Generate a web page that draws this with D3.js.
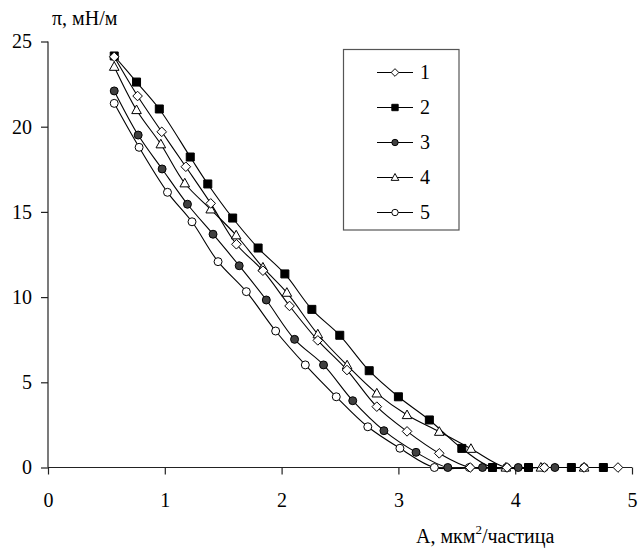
<!DOCTYPE html>
<html>
<head>
<meta charset="utf-8">
<script src="https://cdn.jsdelivr.net/npm/d3@7"></script>
<style>
  body { margin: 0; background: #fff; }
  svg { display: block; font-family: "Liberation Serif", "Times New Roman", serif; }
</style>
</head>
<body>
<svg id="chart" width="638" height="549"></svg>
<script>
// isotherm data
const seriesNames = ['1', '2', '3', '4', '5']
const xTicks = [0, 1, 2, 3, 4, 5]
const yTicks = [0, 5, 10, 15, 20, 25]

const area1 = [0.567, 0.767, 0.974, 1.18, 1.393, 1.613, 1.84, 2.068, 2.31, 2.56, 2.815, 3.074, 3.35, 3.615, 3.93, 4.25, 4.59, 4.88]
const pi1 = [24.1, 21.8, 19.7, 17.65, 15.5, 13.1, 11.55, 9.48, 7.46, 5.72, 3.57, 2.12, 0.83, 0, 0, 0, 0, 0]

const area2 = [0.567, 0.758, 0.953, 1.218, 1.368, 1.581, 1.799, 2.028, 2.259, 2.498, 2.75, 3.0, 3.265, 3.543, 3.806, 4.114, 4.481, 4.755]
const pi2 = [24.15, 22.62, 21.04, 18.22, 16.64, 14.64, 12.88, 11.36, 9.28, 7.76, 5.68, 4.15, 2.79, 1.12, 0, 0, 0, 0]

const area3 = [0.567, 0.772, 0.977, 1.194, 1.413, 1.637, 1.869, 2.111, 2.359, 2.609, 2.876, 3.151, 3.423, 3.72, 4.026, 4.34]
const pi3 = [22.1, 19.51, 17.52, 15.45, 13.69, 11.84, 9.83, 7.52, 6.02, 3.92, 2.16, 0.89, 0, 0, 0, 0]

const area4 = [0.567, 0.758, 0.966, 1.171, 1.393, 1.611, 1.84, 2.045, 2.31, 2.561, 2.815, 3.074, 3.35, 3.621, 3.92, 4.22, 4.59]
const pi4 = [23.52, 20.98, 18.97, 16.68, 15.15, 13.63, 11.74, 10.26, 7.82, 6.0, 4.35, 3.08, 2.1, 1.1, 0, 0, 0]

const area5 = [0.567, 0.78, 1.023, 1.233, 1.456, 1.698, 1.949, 2.203, 2.468, 2.738, 3.013, 3.308, 3.607, 3.926, 4.248, 4.59]
const pi5 = [21.37, 18.79, 16.15, 14.42, 12.08, 10.32, 8.01, 6.02, 4.15, 2.39, 1.13, 0, 0, 0, 0, 0]

const seriesX = [area1, area2, area3, area4, area5]
const seriesY = [pi1, pi2, pi3, pi4, pi5]

// marker style for each series: shape and fill
const markerShapes = ['diamond', 'square', 'circle', 'triangle', 'circle']
const markerFills = ['#fff', '#000', '#404040', '#fff', '#fff']

const svg = d3.select('#chart')

const x = d3.scaleLinear().domain([0, 5]).range([48, 632])
const y = d3.scaleLinear().domain([0, 25]).range([467.5, 41.5])

function markerPath(shape) {
  if (shape === 'diamond') return 'M0,-4.8L4.8,0L0,4.8L-4.8,0Z'
  if (shape === 'square') return 'M-4,-4H4V4H-4Z'
  if (shape === 'triangle') return 'M0,-5L4.8,3.6H-4.8Z'
  return d3.symbol(d3.symbolCircle, 50)()
}

// axes
const xAxis = svg.append('g')
  .attr('transform', `translate(0, ${y(0)})`)
  .call(d3.axisBottom(x).tickValues(xTicks).tickSize(7).tickPadding(18).tickFormat(d3.format('d')))
const yAxis = svg.append('g')
  .attr('transform', `translate(${x(0)}, 0)`)
  .call(d3.axisLeft(y).tickValues(yTicks).tickSize(7).tickPadding(9).tickFormat(d3.format('d')))

for (const ax of [xAxis, yAxis]) {
  ax.attr('font-family', null).attr('font-size', null)
  ax.select('.domain').attr('stroke', '#222').attr('stroke-width', 1.2)
  ax.selectAll('.tick line').attr('stroke', '#222').attr('stroke-width', 1.2)
  ax.selectAll('.tick text')
    .attr('fill', '#000')
    .style('font-family', '"Liberation Serif", serif')
    .style('font-size', '20px')
}
// drop the outer ticks of the domain paths
xAxis.select('.domain').attr('d', `M${x(0)},0H${x(5)}`)
yAxis.select('.domain').attr('d', `M0,${y(0)}V${y(25)}`)

// axis titles
svg.append('text')
  .attr('x', 52).attr('y', 25)
  .style('font-size', '20px')
  .text('π, мН/м')

const xTitle = svg.append('text')
  .attr('x', 416).attr('y', 543)
  .style('font-size', '20px')
xTitle.append('tspan').text('A, мкм')
xTitle.append('tspan').attr('dy', -9).style('font-size', '13px').text('2')
xTitle.append('tspan').attr('dy', 9).text('/частица')

// lines and markers
const line = d3.line()
  .x(d => x(d[0]))
  .y(d => y(d[1]))
  .curve(d3.curveCatmullRom.alpha(0.5))

seriesNames.forEach((name, i) => {
  const pts = seriesX[i].map((v, j) => [v, seriesY[i][j]])
  svg.append('path')
    .datum(pts)
    .attr('d', line)
    .attr('fill', 'none')
    .attr('stroke', '#000')
    .attr('stroke-width', 1.1)
})

// markers drawn in reverse so series 1-2 sit on top like the original
for (let i = seriesNames.length - 1; i >= 0; i--) {
  const pts = seriesX[i].map((v, j) => [v, seriesY[i][j]])
  svg.append('g').selectAll('path')
    .data(pts)
    .enter()
    .append('path')
    .attr('transform', d => `translate(${x(d[0])}, ${y(d[1])})`)
    .attr('d', markerPath(markerShapes[i]))
    .attr('fill', markerFills[i])
    .attr('stroke', '#000')
    .attr('stroke-width', 1)
}

// legend
const legend = svg.append('g')
legend.append('rect')
  .attr('x', 343.5).attr('y', 49.5)
  .attr('width', 115.5).attr('height', 180.5)
  .attr('fill', '#fff')
  .attr('stroke', '#555')
  .attr('stroke-width', 1.2)

seriesNames.forEach((name, i) => {
  const ly = 72.5 + i * 35
  const item = legend.append('g').attr('transform', `translate(0, ${ly})`)
  item.append('line')
    .attr('x1', 377).attr('x2', 413)
    .attr('stroke', '#000').attr('stroke-width', 1.1)
  item.append('path')
    .attr('transform', 'translate(395, 0) scale(0.8)')
    .attr('d', markerPath(markerShapes[i]))
    .attr('fill', markerFills[i])
    .attr('stroke', '#000')
    .attr('stroke-width', 1.2)
  item.append('text')
    .attr('x', 420).attr('y', 6.5)
    .style('font-size', '20px')
    .text(name)
})
</script>
</body>
</html>
